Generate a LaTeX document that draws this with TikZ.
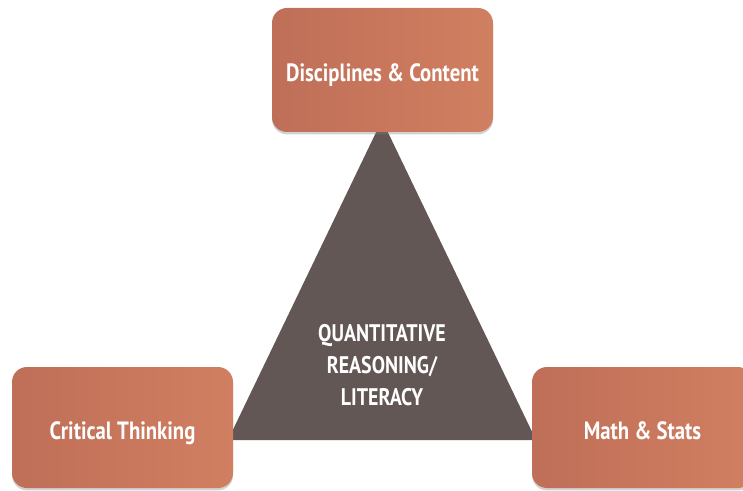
\documentclass[tikz,border=0pt]{standalone}
\usepackage{fontspec}
\setsansfont{PT Sans}[FakeStretch=0.83]
\usetikzlibrary{positioning,shadows}
\definecolor{boxlight}{HTML}{D17F61}
\definecolor{boxdark}{HTML}{BF6F58}
\definecolor{triangle}{HTML}{625755}
\tikzstyle{topic} = [rounded corners=7.5pt, left color=boxdark, right color=boxlight, minimum width=110.5pt, drop shadow={shadow xshift=0pt, shadow yshift=-1.2pt, opacity=0.35}, text=white, text height=12pt, text depth=0pt, font=\sffamily\bfseries\fontsize{12.5}{15}\selectfont]
\tikzstyle{core} = [text=white, align=center, font=\sffamily\bfseries\fontsize{12}{16}\selectfont]

\begin{document}
\begin{tikzpicture}[x=0.5pt, y=-0.5pt]
\useasboundingbox (0,0) rectangle (743,491);
\fill[white] (0,0) rectangle (743,491);

\fill[triangle] (382,120) -- (228,440) -- (536,440) -- cycle;
\node[core] (qr) at (382,365) {QUANTITATIVE\\REASONING/\\LITERACY};

\node[topic, minimum height=62pt] (disc) at (382.5,70) {Disciplines \& Content};
\node[topic, minimum height=60.5pt] (crit) at (122.5,427.5) {Critical Thinking};
\node[topic, minimum height=60.5pt] (math) at (642.5,427.5) {Math \& Stats};

\end{tikzpicture}
\end{document}
